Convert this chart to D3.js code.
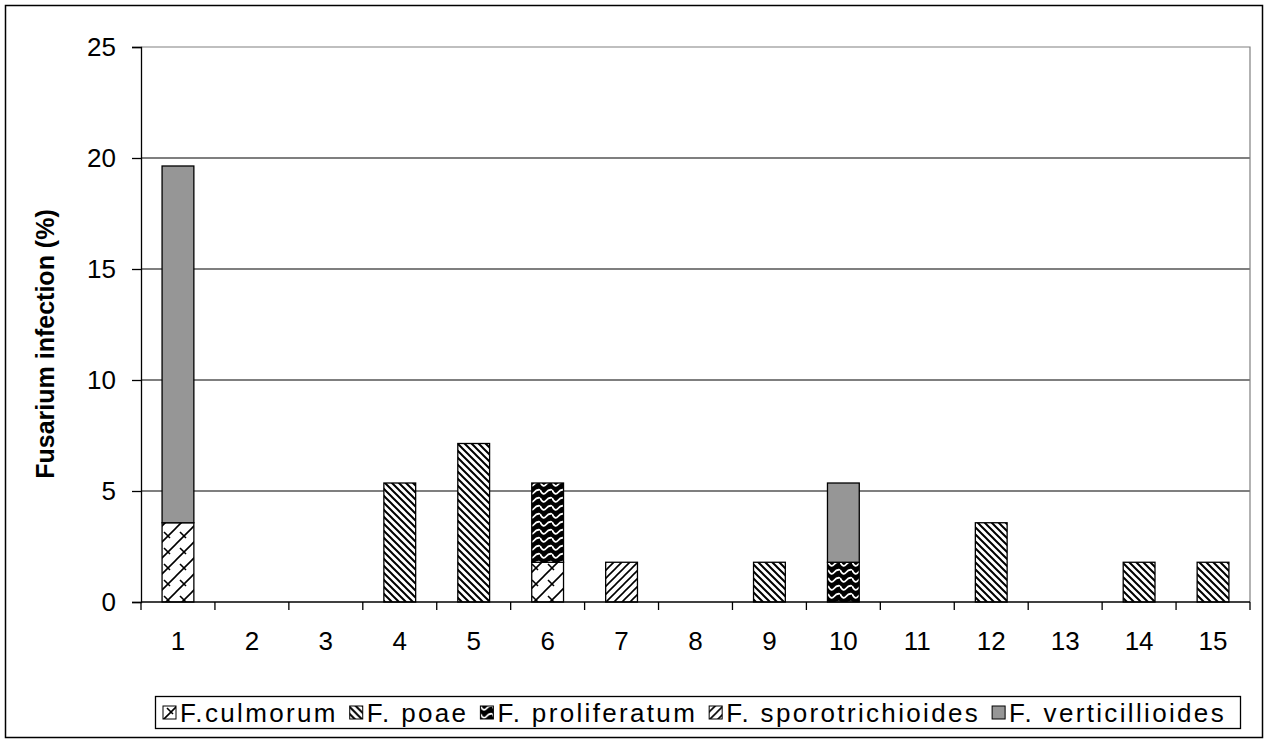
<!DOCTYPE html>
<meta charset="utf-8">
<head>
    <script type="text/javascript" src="https://cdn.jsdelivr.net/npm/d3@7"></script>
    <style>
        body { margin: 0; background: #fff; }
        text { font-family: "Liberation Sans", Arial, sans-serif; fill: #000; }
    </style>
    <title>Fusarium infection</title>
</head>
<body>
    <script>
        // data (1 grain in 56 = 1.79 %)
        var samples = ["1","2","3","4","5","6","7","8","9","10","11","12","13","14","15"];
        var species = ["F.culmorum", "F. poae", "F. proliferatum", "F. sporotrichioides", "F. verticillioides"];
        var culmorum         = [3.57, 0, 0, 0,    0,    1.79, 0,    0, 0,    0,    0, 0,    0, 0,    0];
        var poae             = [0,    0, 0, 5.36, 7.14, 0,    0,    0, 1.79, 0,    0, 3.57, 0, 1.79, 1.79];
        var proliferatum     = [0,    0, 0, 0,    0,    3.57, 0,    0, 0,    1.79, 0, 0,    0, 0,    0];
        var sporotrichioides = [0,    0, 0, 0,    0,    0,    1.79, 0, 0,    0,    0, 0,    0, 0,    0];
        var verticillioides  = [16.07,0, 0, 0,    0,    0,    0,    0, 0,    3.57, 0, 0,    0, 0,    0];
        var yTicks = [0, 5, 10, 15, 20, 25];

        var width = 1265, height = 740;
        var margin = {top: 47, right: 15, bottom: 138, left: 141};
        var fontSize = "26px";

        var svg = d3.select("body").append("svg")
            .attr("width", width)
            .attr("height", height);

        // outer frame
        svg.append("rect")
            .attr("x", 5.5).attr("y", 5.5)
            .attr("width", width - 8).attr("height", height - 8)
            .attr("fill", "none").attr("stroke", "#000").attr("stroke-width", 1.5);

        var defs = svg.append("defs");

        // F.culmorum: white with wide zigzag trellis
        var p0 = defs.append("pattern").attr("id", "pat0").attr("patternUnits", "userSpaceOnUse")
            .attr("width", 16).attr("height", 16);
        p0.append("rect").attr("width", 16).attr("height", 16).attr("fill", "#fff");
        p0.append("path").attr("d", "M0,16 L16,0 M-2,2 L2,-2 M14,18 L18,14 M4,4 L10,10")
            .attr("stroke", "#000").attr("stroke-width", 1.6).attr("fill", "none");

        // F. poae: dense "\" stripes
        var p1 = defs.append("pattern").attr("id", "pat1").attr("patternUnits", "userSpaceOnUse")
            .attr("width", 7).attr("height", 7);
        p1.append("rect").attr("width", 7).attr("height", 7).attr("fill", "#fff");
        p1.append("path").attr("d", "M0,0 L7,7 M-7,0 L7,14 M0,-7 L14,7")
            .attr("stroke", "#000").attr("stroke-width", 2).attr("fill", "none");

        // F. proliferatum: black with white waves
        var p2 = defs.append("pattern").attr("id", "pat2").attr("patternUnits", "userSpaceOnUse")
            .attr("width", 12).attr("height", 8);
        p2.append("rect").attr("width", 12).attr("height", 8).attr("fill", "#000");
        p2.append("path").attr("d", "M0,2 Q3,8 6,4.5 Q9,1 12,2")
            .attr("stroke", "#fff").attr("stroke-width", 1.8).attr("fill", "none");

        // F. sporotrichioides: "/" stripes
        var p3 = defs.append("pattern").attr("id", "pat3").attr("patternUnits", "userSpaceOnUse")
            .attr("width", 8).attr("height", 8);
        p3.append("rect").attr("width", 8).attr("height", 8).attr("fill", "#fff");
        p3.append("path").attr("d", "M0,8 L8,0 M-8,8 L8,-8 M0,16 L16,0")
            .attr("stroke", "#000").attr("stroke-width", 1.6).attr("fill", "none");

        var fills = ["url(#pat0)", "url(#pat1)", "url(#pat2)", "url(#pat3)", "#969696"];

        var x = d3.scaleBand()
            .domain(samples)
            .range([margin.left, width - margin.right])
            .padding(0);

        var y = d3.scaleLinear()
            .domain([0, 25])
            .range([height - margin.bottom, margin.top]);

        var barW = x.bandwidth() * 0.43;

        // gridlines
        svg.append("g").selectAll("line")
            .data(yTicks.filter(d => d > 0 && d < 25))
            .enter().append("line")
            .attr("x1", margin.left).attr("x2", width - margin.right)
            .attr("y1", d => y(d)).attr("y2", d => y(d))
            .attr("stroke", "#000").attr("stroke-width", 1.2);

        // plot border top and right (grey)
        svg.append("path")
            .attr("d", "M" + margin.left + "," + y(25) + "H" + (width - margin.right) + "V" + y(0))
            .attr("fill", "none").attr("stroke", "#808080").attr("stroke-width", 1.2);

        // stacked bars
        var table = samples.map(function(s, i) {
            return {sample: s, culmorum: culmorum[i], poae: poae[i], proliferatum: proliferatum[i],
                    sporotrichioides: sporotrichioides[i], verticillioides: verticillioides[i]};
        });
        var keys = ["culmorum", "poae", "proliferatum", "sporotrichioides", "verticillioides"];
        var stacked = d3.stack().keys(keys)(table);

        svg.append("g").selectAll("g")
            .data(stacked)
            .enter().append("g")
            .attr("fill", (d, i) => fills[i])
            .selectAll("rect")
            .data(d => d.filter(v => v[1] - v[0] > 0))
            .enter().append("rect")
            .attr("x", d => x(d.data.sample) + (x.bandwidth() - barW) / 2)
            .attr("y", d => y(d[1]))
            .attr("width", barW)
            .attr("height", d => y(d[0]) - y(d[1]))
            .attr("stroke", "#000").attr("stroke-width", 1.3);

        // y axis
        var yAxis = svg.append("g")
            .attr("transform", "translate(" + margin.left + ",0)")
            .call(d3.axisLeft(y).tickValues(yTicks).tickSize(9).tickPadding(16));
        yAxis.select(".domain").attr("stroke", "#000").attr("stroke-width", 1.3);
        yAxis.selectAll(".tick line").attr("stroke", "#000").attr("stroke-width", 1.3);
        yAxis.selectAll("text").style("font-size", fontSize)
            .style("font-family", "'Liberation Sans', Arial, sans-serif");

        // x axis: ticks at category boundaries
        var xAxis = svg.append("g")
            .attr("transform", "translate(0," + y(0) + ")");
        xAxis.append("line")
            .attr("x1", margin.left).attr("x2", width - margin.right)
            .attr("stroke", "#000").attr("stroke-width", 1.3);
        xAxis.selectAll(".bt")
            .data(samples.concat(["end"]))
            .enter().append("line")
            .attr("x1", (d, i) => margin.left + i * x.step())
            .attr("x2", (d, i) => margin.left + i * x.step())
            .attr("y1", 0).attr("y2", 8)
            .attr("stroke", "#000").attr("stroke-width", 1.3);
        xAxis.selectAll("text.xl")
            .data(samples)
            .enter().append("text")
            .attr("class", "xl")
            .attr("x", d => x(d) + x.bandwidth() / 2)
            .attr("y", 48)
            .attr("text-anchor", "middle")
            .style("font-size", fontSize)
            .text(d => d);

        // y title
        svg.append("text")
            .attr("transform", "translate(54,344) rotate(-90)")
            .attr("text-anchor", "middle")
            .style("font-size", "25px")
            .style("font-weight", "bold")
            .text("Fusarium infection (%)");

        // legend: items packed with small gaps, letters spread to fill the box
        var legend = svg.append("g");
        legend.append("rect")
            .attr("x", 155.5).attr("y", 696.5)
            .attr("width", 1085).attr("height", 32)
            .attr("fill", "#fff").attr("stroke", "#000").attr("stroke-width", 1.3);
        var x0 = 163, x1 = 1226, gap = 12;
        var items = species.map(function(s, i) {
            var g = legend.append("g");
            g.append("rect")
                .attr("x", 0).attr("y", 706)
                .attr("width", 13).attr("height", 13)
                .attr("fill", fills[i]).attr("stroke", "#000").attr("stroke-width", 1);
            var t = g.append("text")
                .attr("x", 17).attr("y", 722)
                .style("font-size", fontSize)
                .text(s);
            return {g: g, t: t, w: t.node().getComputedTextLength(), n: s.length};
        });
        var spare = (x1 - x0) - d3.sum(items, d => d.w + 17) - gap * (items.length - 1);
        var ls = Math.max(0, spare / d3.sum(items, d => d.n));
        var cx = x0;
        items.forEach(function(it) {
            it.t.style("letter-spacing", ls + "px");
            it.g.attr("transform", "translate(" + cx + ",0)");
            cx += 17 + it.w + ls * it.n + gap;
        });
    </script>
</body>
</html>
